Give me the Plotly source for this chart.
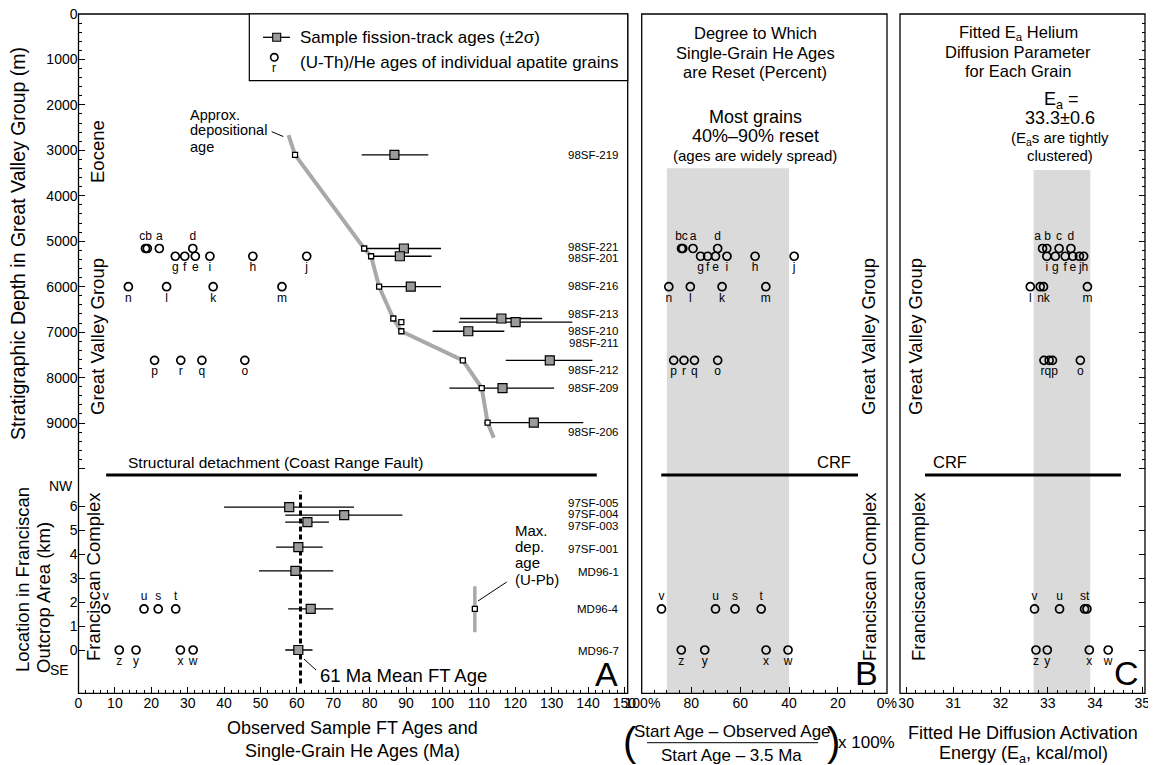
import plotly.graph_objects as go

# ======================= DATA =======================
# --- Panel A: Great Valley Group sample fission-track ages (Ma) vs depth (m)
gv_samples = ["98SF-219", "98SF-221", "98SF-201", "98SF-216", "98SF-213",
              "98SF-210", "98SF-211", "98SF-212", "98SF-209", "98SF-206"]
gv_ft_depth = [3100, 5160, 5330, 6000, 6700, 6780, 6980, 7620, 8230, 8990]
gv_ft_age = [86.8, 89.4, 88.3, 91.3, 116.2, 120.1, 107.1, 129.5, 116.5, 125.1]
gv_ft_lo = [77.8, 78.5, 80.4, 82.6, 104.8, 104.5, 97.3, 117.4, 101.9, 111.5]
gv_ft_hi = [96.1, 99.6, 97.0, 99.6, 127.4, 135.7, 117.0, 141.2, 130.7, 138.7]
gv_dep_age = [59.5, 78.5, 80.4, 82.6, 86.5, 88.7, 88.7, 105.6, 110.8, 112.4]
dep_curve_age = [57.7, 59.5, 78.5, 80.4, 82.6, 86.5, 88.7, 105.6, 110.8, 112.4, 114.1]
dep_curve_depth = [2665, 3100, 5160, 5330, 6000, 6700, 6980, 7620, 8230, 8990, 9324]

# --- Panel A: Franciscan Complex sample FT ages vs location (km)
fr_samples = ["97SF-005", "97SF-004", "97SF-003", "97SF-001", "MD96-1", "MD96-4", "MD96-7"]
fr_loc = [5.95, 5.62, 5.33, 4.29, 3.30, 1.71, 0.0]
fr_ft_age = [57.9, 73.0, 62.9, 60.4, 59.6, 63.8, 60.4]
fr_ft_lo = [40.0, 56.8, 56.8, 54.3, 49.6, 57.6, 56.8]
fr_ft_hi = [75.7, 89.0, 68.8, 67.1, 70.0, 70.0, 64.3]
mean_ft_age = 61
max_dep_age = 108.9
max_dep_loc = 1.71
max_dep_span = [0.74, 2.66]

# --- Single-grain (U-Th)/He results, Great Valley Group grains a-r
gv_grains = ["a", "b", "c", "d", "e", "f", "g", "h", "i", "j", "k", "l", "m", "n", "o", "p", "q", "r"]
gv_grain_depth = [5160, 5160, 5160, 5160, 5330, 5330, 5330, 5330, 5330, 5330,
                  6000, 6000, 6000, 6000, 7620, 7620, 7620, 7620]
gv_he_age = [22.2, 18.9, 18.4, 31.4, 32.1, 29.2, 26.6, 47.9, 36.1, 62.7,
             37.0, 24.2, 55.9, 13.7, 45.7, 20.9, 33.9, 28.1]
gv_reset_pct = [79.3, 84.0, 83.5, 69.2, 70.1, 73.3, 76.2, 53.9, 65.4, 37.9,
                67.4, 80.4, 49.5, 89.2, 69.2, 87.2, 78.7, 83.0]
gv_ea = [32.89, 32.98, 33.24, 33.49, 33.53, 33.37, 33.16, 33.76, 32.98, 33.67,
         32.91, 32.63, 33.84, 32.84, 33.69, 33.10, 33.03, 32.92]

# --- Single-grain results, Franciscan grains s-z
fr_grains = ["s", "t", "u", "v", "w", "x", "y", "z"]
fr_grain_loc = [1.71, 1.71, 1.71, 1.71, 0.0, 0.0, 0.0, 0.0]
fr_he_age = [21.9, 26.7, 18.0, 7.5, 31.5, 28.0, 15.8, 11.2]
fr_reset_pct = [62.1, 51.4, 70.1, 92.2, 40.4, 49.4, 74.5, 84.1]
fr_ea = [33.78, 33.83, 33.25, 32.72, 34.28, 33.88, 32.99, 32.75]

# reference bands
reset_band = [40, 90]
ea_mean, ea_sd = 33.3, 0.6

# tick labels
depth_ticks = [0, 1000, 2000, 3000, 4000, 5000, 6000, 7000, 8000, 9000, 10000]
depth_ticktext = ["0", "1000", "2000", "3000", "4000", "5000", "6000", "7000", "8000", "9000", ""]
loc_ticks = [0, 1, 2, 3, 4, 5, 6]
pct_ticks = [100, 80, 60, 40, 20, 0]
pct_ticktext = ["100%", "80", "60", "40", "20", "0%"]

# ======================= LAYOUT HELPERS =======================
# page body has an 8 px margin: the figure is sized to fill the rest of the window
OFF = 8
W, H = 1156 - OFF, 765 - OFF
FONT = "Liberation Sans, Arial, Helvetica, sans-serif"


def PX(x):
    return (x - OFF) / W


def PY(y):
    return 1 - (y - OFF) / H


TOP, SPLIT, BOT = 14, 470, 693.3
PPM = 0.0454  # px per metre
depth_range = [(SPLIT - TOP) / PPM - 0.5 / PPM, -0.5 / PPM]
dom_depth = [PY(SPLIT), PY(TOP - 0.5)]
loc_range = [-(BOT - 650) / 24.0, (650 - SPLIT) / 24.0]
dom_loc = [PY(BOT), PY(SPLIT)]
A_L, A_R = 78.5, 627.7
B_L, B_R = 641.7, 887
C_L, C_R = 900, 1145

fig = go.Figure()

GRAY = "#9b9b9b"
LGRAY = "#a9a9a9"
SHADE = "#dadada"


def label_set(letters, rows, top_rows, override):
    txt, pos = [], []
    for l, r in zip(letters, rows):
        txt.append(override.get(l, l))
        pos.append("top center" if r in top_rows else "bottom center")
    return txt, pos


def add_grains(x, y, letters, rows, top_rows, override, xa, ya):
    txt, pos = label_set(letters, rows, top_rows, override)
    fig.add_trace(go.Scatter(
        x=x, y=y, mode="markers+text", text=txt, textposition=pos,
        textfont=dict(size=12, color="black", family=FONT),
        marker=dict(symbol="circle-open", size=8, color="black", line=dict(width=1.7)),
        xaxis=xa, yaxis=ya, cliponaxis=False, showlegend=False, hoverinfo="skip"))


# ---------- Panel A (upper: depth) ----------
fig.add_trace(go.Scatter(x=dep_curve_age, y=dep_curve_depth, mode="lines",
                         line=dict(color=LGRAY, width=4), xaxis="x", yaxis="y",
                         showlegend=False, hoverinfo="skip"))
fig.add_trace(go.Scatter(
    x=gv_ft_age, y=gv_ft_depth, mode="markers",
    error_x=dict(type="data", symmetric=False,
                 array=[h - a for h, a in zip(gv_ft_hi, gv_ft_age)],
                 arrayminus=[a - l for a, l in zip(gv_ft_age, gv_ft_lo)],
                 color="black", thickness=1.3, width=0),
    marker=dict(symbol="square", size=9, color=GRAY, line=dict(color="black", width=1.2)),
    xaxis="x", yaxis="y", showlegend=False, hoverinfo="skip"))
fig.add_trace(go.Scatter(x=gv_dep_age, y=gv_ft_depth, mode="markers",
                         marker=dict(symbol="square", size=5, color="white",
                                     line=dict(color="black", width=1.3)),
                         xaxis="x", yaxis="y", showlegend=False, hoverinfo="skip"))
add_grains(gv_he_age, gv_grain_depth, gv_grains, gv_grain_depth, [5160],
           {"c": "cb", "b": ""}, "x", "y")

# ---------- Panel A (lower: Franciscan) ----------
fig.add_trace(go.Scatter(x=[mean_ft_age, mean_ft_age], y=[-1.4, 6.63], mode="lines",
                         line=dict(color="black", width=3, dash="5px,3px"),
                         xaxis="x", yaxis="y2", showlegend=False, hoverinfo="skip"))
fig.add_trace(go.Scatter(
    x=fr_ft_age, y=fr_loc, mode="markers",
    error_x=dict(type="data", symmetric=False,
                 array=[h - a for h, a in zip(fr_ft_hi, fr_ft_age)],
                 arrayminus=[a - l for a, l in zip(fr_ft_age, fr_ft_lo)],
                 color="black", thickness=1.3, width=0),
    marker=dict(symbol="square", size=9, color=GRAY, line=dict(color="black", width=1.2)),
    xaxis="x", yaxis="y2", showlegend=False, hoverinfo="skip"))
fig.add_trace(go.Scatter(x=[max_dep_age, max_dep_age], y=max_dep_span, mode="lines",
                         line=dict(color=LGRAY, width=3.5), xaxis="x", yaxis="y2",
                         showlegend=False, hoverinfo="skip"))
fig.add_trace(go.Scatter(x=[max_dep_age], y=[max_dep_loc], mode="markers",
                         marker=dict(symbol="square", size=5, color="white",
                                     line=dict(color="black", width=1.3)),
                         xaxis="x", yaxis="y2", showlegend=False, hoverinfo="skip"))
add_grains(fr_he_age, fr_grain_loc, fr_grains, fr_grain_loc, [1.71], {}, "x", "y2")

# ---------- Panel B ----------
add_grains(gv_reset_pct, gv_grain_depth, gv_grains, gv_grain_depth, [5160],
           {"b": "bc", "c": ""}, "x3", "y3")
add_grains(fr_reset_pct, fr_grain_loc, fr_grains, fr_grain_loc, [1.71], {}, "x3", "y4")

# ---------- Panel C ----------
add_grains(gv_ea, gv_grain_depth, gv_grains, gv_grain_depth, [5160],
           {"a": "a b", "b": "", "h": "jh", "j": "", "n": "", "k": "nk",
            "r": "", "p": "", "q": "rqp"}, "x5", "y5")
add_grains(fr_ea, fr_grain_loc, fr_grains, fr_grain_loc, [1.71],
           {"s": "st", "t": ""}, "x5", "y6")

# ======================= AXES =======================
tickfont = dict(size=14, family=FONT, color="black")
base = dict(showgrid=False, zeroline=False, showline=False, ticks="inside",
            tickcolor="black", tickwidth=1, ticklen=6, tickfont=tickfont,
            automargin=False, ticklabeloverflow="allow")
hidden = dict(visible=False, showgrid=False, zeroline=False, automargin=False)

fig.update_layout(
    xaxis=dict(base, domain=[PX(A_L), PX(A_R)], range=[0, 150.9], anchor="y2",
               tickmode="linear", tick0=0, dtick=10,
               minor=dict(tickmode="linear", tick0=0, dtick=2, ticks="inside",
                          ticklen=3, tickcolor="black")),
    yaxis=dict(base, domain=dom_depth, range=depth_range, anchor="x",
               tickmode="array", tickvals=depth_ticks, ticktext=depth_ticktext,
               minor=dict(tickmode="linear", tick0=0, dtick=200, ticks="inside",
                          ticklen=3, tickcolor="black")),
    yaxis2=dict(base, domain=dom_loc, range=loc_range, anchor="x",
                tickmode="array", tickvals=loc_ticks),
    xaxis3=dict(base, domain=[PX(B_L), PX(B_R)], range=[100.3, -0.1], anchor="y4",
                tickmode="array", tickvals=pct_ticks, ticktext=pct_ticktext,
                minor=dict(tickmode="linear", tick0=0, dtick=5, ticks="inside",
                           ticklen=3, tickcolor="black")),
    yaxis3=dict(hidden, domain=dom_depth, range=depth_range, anchor="x3"),
    yaxis4=dict(hidden, domain=dom_loc, range=loc_range, anchor="x3"),
    xaxis5=dict(base, domain=[PX(C_L), PX(C_R)], range=[29.87, 35.06], anchor="y6",
                tickmode="linear", tick0=30, dtick=1,
                minor=dict(tickmode="linear", tick0=30, dtick=0.2, ticks="inside",
                           ticklen=3, tickcolor="black")),
    yaxis5=dict(base, domain=dom_depth, range=depth_range, anchor="x5", side="right",
                showticklabels=False, tickmode="array", tickvals=depth_ticks,
                minor=dict(tickmode="linear", tick0=0, dtick=200, ticks="inside",
                           ticklen=3, tickcolor="black")),
    yaxis6=dict(base, domain=dom_loc, range=loc_range, anchor="x5", side="right",
                showticklabels=False, tickmode="array", tickvals=loc_ticks),
)

# ======================= SHAPES =======================
shapes = []
# shaded bands
shapes.append(dict(type="rect", xref="x3", yref="paper", x0=reset_band[1], x1=reset_band[0],
                   y0=PY(BOT), y1=PY(168.3), fillcolor=SHADE, line=dict(width=0), layer="below"))
shapes.append(dict(type="rect", xref="x5", yref="paper", x0=ea_mean - ea_sd, x1=ea_mean + ea_sd,
                   y0=PY(BOT), y1=PY(170), fillcolor=SHADE, line=dict(width=0), layer="below"))
# panel frames
for l, r in [(A_L, A_R), (B_L, B_R), (C_L, C_R)]:
    shapes.append(dict(type="rect", xref="paper", yref="paper", x0=PX(l), x1=PX(r),
                       y0=PY(BOT), y1=PY(TOP), line=dict(color="black", width=1.3)))
# legend box
shapes.append(dict(type="rect", xref="paper", yref="paper", x0=PX(249.3), x1=PX(A_R),
                   y0=PY(80.7), y1=PY(TOP), fillcolor="white", line=dict(color="black", width=1.2)))
shapes.append(dict(type="line", xref="paper", yref="paper", x0=PX(263), x1=PX(290),
                   y0=PY(37.3), y1=PY(37.3), line=dict(color="black", width=1.3)))
shapes.append(dict(type="rect", xref="paper", yref="paper", x0=PX(272.7), x1=PX(280.7),
                   y0=PY(41.3), y1=PY(33.3), fillcolor=GRAY, line=dict(color="black", width=1.1)))
shapes.append(dict(type="circle", xref="paper", yref="paper", x0=PX(270.6), x1=PX(278),
                   y0=PY(61), y1=PY(53.6), line=dict(color="black", width=1.6)))
# structural detachment / CRF lines
shapes.append(dict(type="line", xref="x", yref="y2", x0=7.6, x1=142.4, y0=7.29, y1=7.29,
                   line=dict(color="black", width=3)))
shapes.append(dict(type="line", xref="x3", yref="y4", x0=92.3, x1=11.8, y0=7.29, y1=7.29,
                   line=dict(color="black", width=3)))
shapes.append(dict(type="line", xref="x5", yref="y6", x0=30.4, x1=34.55, y0=7.29, y1=7.29,
                   line=dict(color="black", width=3)))
# leader lines
for (x0, y0, x1, y1) in [(271.7, 131.7, 283.3, 136.5), (304, 659, 316, 670),
                         (478, 601, 506.7, 582)]:
    shapes.append(dict(type="line", xref="paper", yref="paper", x0=PX(x0), y0=PY(y0),
                       x1=PX(x1), y1=PY(y1), line=dict(color="black", width=1)))
# fraction bar
shapes.append(dict(type="line", xref="paper", yref="paper", x0=PX(647), x1=PX(818),
                   y0=PY(742.7), y1=PY(742.7), line=dict(color="black", width=1)))
fig.update_layout(shapes=shapes)

# ======================= ANNOTATIONS =======================
ann = []


def txt(x, y, s, size, xanchor="center", angle=0, yanchor="middle"):
    ann.append(dict(x=PX(x), y=PY(y), xref="paper", yref="paper", text=s, showarrow=False,
                    xanchor=xanchor, yanchor=yanchor, textangle=angle,
                    font=dict(size=size, family=FONT, color="black")))


# axis titles
txt(18, 244, "Stratigraphic Depth in Great Valley Group (m)", 19.5, angle=-90)
txt(22, 580, "Location in Franciscan", 18.5, angle=-90)
txt(43, 598, "Outcrop Area (km)", 18.5, angle=-90)
txt(61, 486, "NW", 14)
txt(59, 670, "SE", 14)
txt(352, 728, "Observed Sample FT Ages and", 18)
txt(352, 751, "Single-Grain He Ages (Ma)", 18)
txt(732, 731.5, "Start Age – Observed Age", 17)
txt(731.7, 755, "Start Age – 3.5 Ma", 17)
txt(630, 742, "(", 40)
txt(833, 742, ")", 40)
txt(866.7, 742, "x 100%", 17)
txt(1023, 733, "Fitted He Diffusion Activation", 18)
txt(1023, 754, "Energy (E<sub>a</sub>, kcal/mol)", 18)
# vertical group labels
txt(97, 152, "Eocene", 18.5, angle=-90)
for x in (97, 868, 915):
    txt(x, 337, "Great Valley Group", 18.5, angle=-90)
for x in (93, 869, 918):
    txt(x, 577, "Franciscan Complex", 18.5, angle=-90)
# panel letters
txt(606.7, 674, "A", 34)
txt(866.7, 673, "B", 34)
txt(1126.7, 673, "C", 34)
# panel B / C headings
txt(755, 33, "Degree to Which", 16.5)
txt(755, 53, "Single-Grain He Ages", 16.5)
txt(755, 72, "are Reset (Percent)", 16.5)
txt(755, 117, "Most grains", 18)
txt(755, 136, "40%–90% reset", 18)
txt(755, 156, "(ages are widely spread)", 15)
txt(1018, 33, "Fitted E<sub>a</sub> Helium", 16.5)
txt(1018, 52, "Diffusion Parameter", 16.5)
txt(1018, 71, "for Each Grain", 16.5)
txt(1061, 100, "E<sub>a</sub> =", 18)
txt(1060, 118, "33.3±0.6", 18)
txt(1060, 138, "(E<sub>a</sub>s are tightly", 15)
txt(1060, 156, "clustered)", 15)
txt(833.7, 461.7, "CRF", 16.5)
txt(949.5, 461.7, "CRF", 16.5)
txt(126, 462, "Structural detachment (Coast Range Fault)", 15.5, xanchor="left")
txt(188.3, 115, "Approx.", 14.5, xanchor="left")
txt(188.3, 130.5, "depositional", 14.5, xanchor="left")
txt(188.3, 146.7, "age", 14.5, xanchor="left")
txt(318, 675, "61 Ma Mean FT Age", 18.5, xanchor="left")
txt(513.3, 530, "Max.", 15, xanchor="left")
txt(513.3, 546, "dep.", 15, xanchor="left")
txt(513.3, 562, "age", 15, xanchor="left")
txt(513.3, 579, "(U-Pb)", 15, xanchor="left")
# legend text
txt(298, 37, "Sample fission-track ages (±2σ)", 17, xanchor="left")
txt(298, 62, "(U-Th)/He ages of individual apatite grains", 17, xanchor="left")
txt(274.3, 68.5, "r", 12)

# sample labels (right aligned inside panel A)
gv_label_depth = [3106, 5126, 5359, 5991, 6593, 6982, 7240, 7841, 8231, 9200]
fr_label_loc = [6.11, 5.65, 5.17, 4.21, 3.26, 1.70, -0.04]
for s, d in zip(gv_samples, gv_label_depth):
    ann.append(dict(x=149.0, y=d, xref="x", yref="y", text=s, showarrow=False,
                    xanchor="right", yanchor="middle",
                    font=dict(size=11.5, family=FONT, color="black")))
for s, d in zip(fr_samples, fr_label_loc):
    ann.append(dict(x=149.0, y=d, xref="x", yref="y2", text=s, showarrow=False,
                    xanchor="right", yanchor="middle",
                    font=dict(size=11.5, family=FONT, color="black")))

fig.update_layout(
    annotations=ann,
    width=W, height=H,
    margin=dict(l=0, r=0, t=0, b=0, pad=0, autoexpand=False),
    paper_bgcolor="white", plot_bgcolor="rgba(0,0,0,0)",
    showlegend=False,
    font=dict(family=FONT, color="black"),
)

fig.write_html("out.html")
